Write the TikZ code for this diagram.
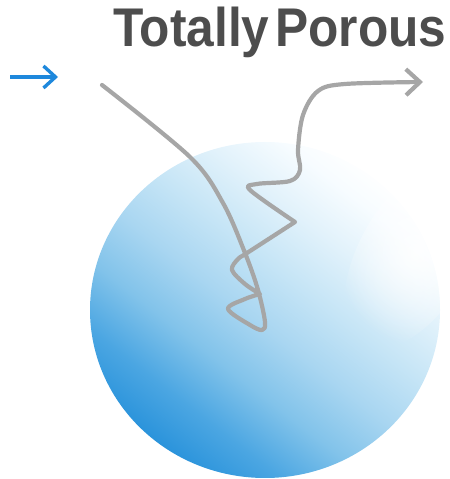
\documentclass[tikz,border=0pt]{standalone}
\usepackage{fontspec}
\setmainfont{Liberation Sans}
\usetikzlibrary{arrows.meta,fadings}
\definecolor{titlegray}{HTML}{4D4D4D}
\definecolor{pathgray}{HTML}{A6A6A6}
\definecolor{arrowblue}{HTML}{1E88DC}
\definecolor{sA}{HTML}{2A93DB}
\definecolor{sB}{HTML}{4BA6E2}
\definecolor{sC}{HTML}{82C3EA}
\definecolor{sD}{HTML}{A9D6F1}
\definecolor{sE}{HTML}{C6E5F6}
\definecolor{sF}{HTML}{E2F2FB}
\definecolor{sG}{HTML}{F7FCFF}
\pgfdeclareverticalshading{spherefill}{100bp}{color(0bp)=(sA); color(25bp)=(sA); color(32bp)=(sB); color(40bp)=(sC); color(48bp)=(sD); color(56bp)=(sE); color(64bp)=(sF); color(71bp)=(sG); color(76bp)=(white); color(100bp)=(white)}
\tikzfading[name=glowfade, inner color=transparent!0, outer color=transparent!100]
\tikzset{
  titletext/.style={inner sep=0pt, anchor=base west, text=titlegray, font=\bfseries\fontsize{54.5bp}{60bp}\selectfont, xscale=0.911},
  wander/.style={draw=pathgray, line width=4.2bp, line cap=round, line join=round, -{Straight Barb[length=14bp,width=26bp]}},
  inarrow/.style={draw=arrowblue, line width=3.4bp, -{Straight Barb[length=12bp,width=22bp]}},
}
\begin{document}
\begin{tikzpicture}[x=1bp,y=1bp]
\useasboundingbox (0,0) rectangle (450,479);
% particle
\shade[shading=spherefill, shading angle=-38]
  (265,169) ellipse [x radius=175, y radius=168];
\begin{scope}
  \clip (265,169) ellipse [x radius=175, y radius=168];
  \fill[white, path fading=glowfade, fill opacity=0.85, rotate around={-30:(415,225)}] (415,225) ellipse [x radius=55, y radius=105];
\end{scope}
% title
\node[titletext] (title) at (113,432) {Totally\hspace{0.12em}Porous};
% incoming arrow
\coordinate (inA) at (10,402);
\coordinate (inB) at (58,402);
\draw[inarrow] (inA) -- (inB);
% wandering path
\coordinate (pathStart) at (102,394);
\coordinate (pathEnd) at (423,397);
\draw[wander] plot[smooth, tension=0.55] coordinates {(102,394) (190,322) (223,276) (245,226) (258,189) (265,157) (262,149) (250,154) (228,170) (245,180) (260,185)}
  -- plot[smooth, tension=0.55] coordinates {(260,185) (245,195) (232,209) (238,220) (247,226) (295,257)}
  -- plot[smooth, tension=0.55] coordinates {(295,257) (250,289) (257,295) (290,298) (300,309) (298,329) (303,364) (318,388) (345,395) (423,397)};
\end{tikzpicture}
\end{document}
